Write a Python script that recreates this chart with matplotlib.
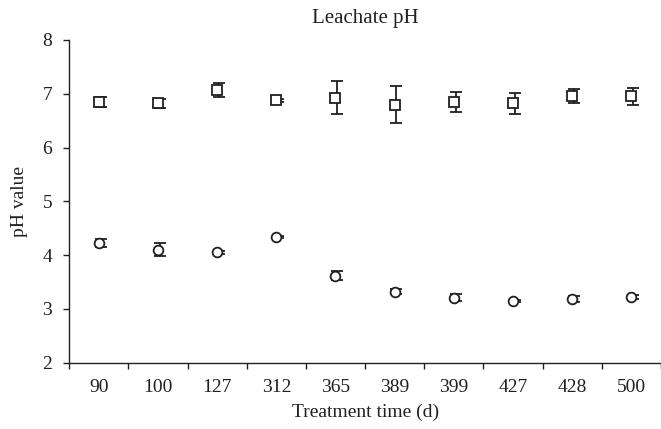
import matplotlib.pyplot as plt
import numpy as np

days = ["90", "100", "127", "312", "365", "389", "399", "427", "428", "500"]
ph_sq = [6.85, 6.82, 7.07, 6.88, 6.93, 6.80, 6.85, 6.82, 6.96, 6.95]
err_sq = [0.09, 0.08, 0.13, 0.03, 0.31, 0.35, 0.19, 0.19, 0.13, 0.15]
ph_ci = [4.23, 4.10, 4.05, 4.34, 3.62, 3.32, 3.21, 3.15, 3.18, 3.22]
err_ci = [0.07, 0.12, 0.03, 0.02, 0.09, 0.05, 0.06, 0.02, 0.06, 0.03]

ink = '#231f20'
plt.rcParams['font.family'] = ['Liberation Serif', 'DejaVu Serif']
plt.rcParams['font.size'] = 14

fig = plt.figure(figsize=(6.61, 4.29), dpi=100)
ax = fig.add_axes([0.1048, 0.1545, 0.895, 0.7523])

x = np.arange(len(days)) + 0.5

for y, e, m in [(ph_sq, err_sq, 's'), (ph_ci, err_ci, 'o')]:
    ax.errorbar(x + 0.03, y, yerr=e, fmt='none', ecolor=ink, elinewidth=1.3,
                capsize=4.3, capthick=1.3, zorder=2)
    ax.plot(x, y, linestyle='none', marker=m, markersize=7.2 if m == 's' else 7,
            markerfacecolor='white', markeredgecolor=ink, markeredgewidth=1.3,
            zorder=3)

ax.set_xlim(0, len(days))
ax.set_ylim(2, 8)
ax.set_yticks(range(2, 9))
ax.set_xticks(np.arange(len(days) + 1))
ax.set_xticklabels([])
ax.set_xticks(x, minor=True)
ax.set_xticklabels(days, minor=True)
ax.tick_params(axis='x', which='major', direction='out', length=4.5, width=1, color=ink)
ax.tick_params(axis='x', which='minor', length=0, pad=11.5, labelcolor=ink)
ax.tick_params(axis='y', direction='out', length=4.3, width=1, color=ink, labelcolor=ink, pad=8)

for s in ['top', 'right']:
    ax.spines[s].set_visible(False)
for s in ['left', 'bottom']:
    ax.spines[s].set_color(ink)
    ax.spines[s].set_linewidth(1)

ax.set_title('Leachate pH', color=ink, pad=12, fontsize=15)
ax.set_xlabel('Treatment time (d)', color=ink, labelpad=6)
ax.set_ylabel('pH value', color=ink, labelpad=10)

fig.savefig('out.png', dpi=100)
